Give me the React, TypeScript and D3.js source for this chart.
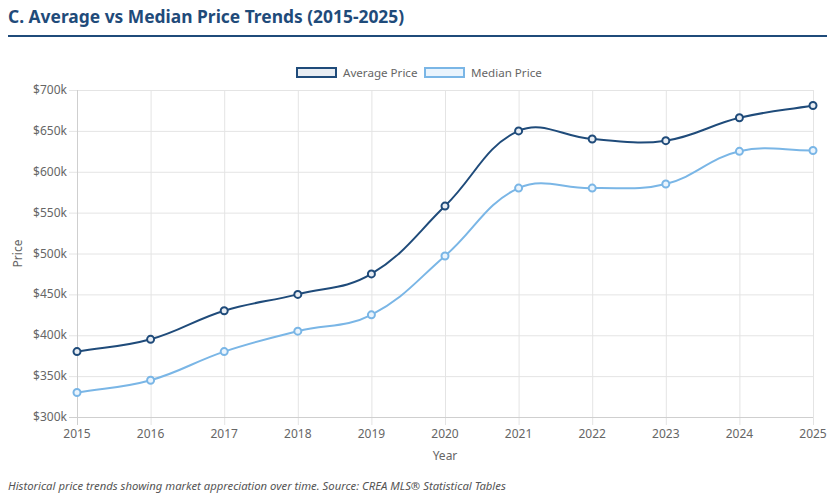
import { useMemo } from "react";
import * as d3 from "d3";

const years = [2015, 2016, 2017, 2018, 2019, 2020, 2021, 2022, 2023, 2024, 2025];
const averagePrice = [380, 395, 430, 450, 475, 558, 650, 640, 638, 666, 681];
const medianPrice = [330, 345, 380, 405, 425, 497, 580, 580, 585, 625, 626];
const yTicks = [300, 350, 400, 450, 500, 550, 600, 650, 700];

const W = 835;
const H = 498;
const FONT = "'Noto Sans', 'Open Sans', sans-serif";
const AVG = "#1f4b7a";
const MED = "#7ab6e6";

type Pt = [number, number];

// spline with tension 0.4, control points weighted by segment length
function splinePath(pts: Pt[], t = 0.4) {
  const p = d3.path();
  const ctrl = pts.map((cur, i) => {
    const prev = pts[i - 1] || cur;
    const next = pts[i + 1] || cur;
    const d01 = Math.hypot(cur[0] - prev[0], cur[1] - prev[1]);
    const d12 = Math.hypot(next[0] - cur[0], next[1] - cur[1]);
    let s01 = d01 / (d01 + d12);
    let s12 = d12 / (d01 + d12);
    if (isNaN(s01)) s01 = 0;
    if (isNaN(s12)) s12 = 0;
    const fa = t * s01;
    const fb = t * s12;
    return {
      prev: [cur[0] - fa * (next[0] - prev[0]), cur[1] - fa * (next[1] - prev[1])],
      next: [cur[0] + fb * (next[0] - prev[0]), cur[1] + fb * (next[1] - prev[1])],
    };
  });
  pts.forEach((pt, i) => {
    if (i === 0) p.moveTo(pt[0], pt[1]);
    else {
      const a = ctrl[i - 1].next;
      const b = ctrl[i].prev;
      p.bezierCurveTo(a[0], a[1], b[0], b[1], pt[0], pt[1]);
    }
  });
  return p.toString();
}

export default function App() {
  const margin = { top: 90, right: 22, bottom: 81, left: 77 };

  const x = useMemo(
    () => d3.scaleLinear().domain([2015, 2025]).range([margin.left, W - margin.right]),
    []
  );
  const y = useMemo(
    () => d3.scaleLinear().domain([300, 700]).range([H - margin.bottom, margin.top]),
    []
  );

  const series = [
    { name: "Average Price", values: averagePrice, color: AVG, fill: "#e8edf3" },
    { name: "Median Price", values: medianPrice, color: MED, fill: "#eaf4fd" },
  ];

  const bottom = y(300);

  return (
    <svg
      width={W}
      height={H}
      style={{ position: "absolute", left: 0, top: 0, background: "#fff" }}
      fontFamily={FONT}
    >
      <text x={8} y={23} fontSize={17.4} fontWeight={700} fill="#1f4b7a">
        C. Average vs Median Price Trends (2015-2025)
      </text>
      <rect x={8} y={35} width={819} height={2} fill="#1f4b7a" />

      {/* legend */}
      <g fontSize={11.6} fill="#666">
        {series.map((s, i) => {
          const lx = i === 0 ? 297 : 425;
          return (
            <g key={s.name}>
              <rect x={lx} y={68} width={39} height={9} fill={s.fill} stroke={s.color} strokeWidth={2} />
              <text x={lx + 46} y={77} fill="#666">
                {s.name}
              </text>
            </g>
          );
        })}
      </g>

      {/* grid */}
      <g stroke="#e4e4e4" strokeWidth={1}>
        {yTicks.map((v) => (
          <line key={v} x1={margin.left - 8} x2={W - margin.right} y1={y(v) + 0.5} y2={y(v) + 0.5} />
        ))}
        {years.map((yr) => (
          <line key={yr} x1={x(yr) + 0.5} x2={x(yr) + 0.5} y1={margin.top} y2={bottom + 8} />
        ))}
      </g>
      <line x1={margin.left + 0.5} x2={margin.left + 0.5} y1={margin.top} y2={bottom + 8} stroke="#cfcfcf" />
      <line x1={margin.left - 8} x2={W - margin.right} y1={bottom + 0.5} y2={bottom + 0.5} stroke="#cfcfcf" />

      <g fontSize={12} fill="#666" textAnchor="end">
        {yTicks.map((v) => (
          <text key={v} x={margin.left - 10} y={y(v) + 4}>
            ${v}k
          </text>
        ))}
      </g>
      <g fontSize={12} fill="#666" textAnchor="middle">
        {years.map((yr) => (
          <text key={yr} x={x(yr)} y={bottom + 21}>
            {yr}
          </text>
        ))}
      </g>
      <text x={(margin.left + W - margin.right) / 2} y={bottom + 43} fontSize={12} fill="#666" textAnchor="middle">
        Year
      </text>
      <text
        transform={`translate(22,${(margin.top + bottom) / 2}) rotate(-90)`}
        fontSize={12}
        fill="#666"
        textAnchor="middle"
      >
        Price
      </text>

      {/* lines */}
      {series
        .slice()
        .reverse()
        .map((s) => {
          const pts: Pt[] = s.values.map((v, i) => [x(years[i]), y(v)]);
          return (
            <g key={s.name}>
              <path d={splinePath(pts)} fill="none" stroke={s.color} strokeWidth={2} />
              {pts.map((p, i) => (
                <circle key={i} cx={p[0]} cy={p[1]} r={3.5} fill={s.fill} stroke={s.color} strokeWidth={2} />
              ))}
            </g>
          );
        })}

      <text x={8} y={490} fontSize={11.3} fontStyle="italic" fill="#555">
        Historical price trends showing market appreciation over time. Source: CREA MLS® Statistical Tables
      </text>
    </svg>
  );
}
